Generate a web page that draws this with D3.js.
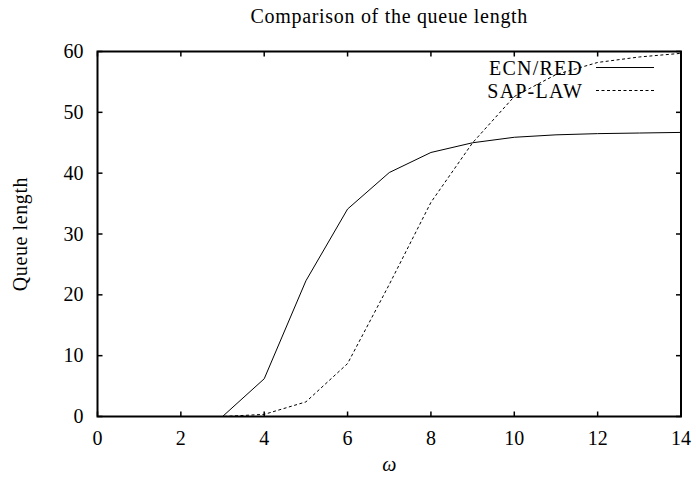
<!DOCTYPE html>
<html lang="en">
<head>
  <meta charset="UTF-8">
  <title>Comparison of the queue length</title>
  <script src="https://d3js.org/d3.v7.min.js"></script>
  <style>
    body { margin: 0; background: #fff; }
    svg { display: block; }
    text { font-family: "Liberation Serif", "Times New Roman", serif; fill: #000; font-size: 20px; }
  </style>
</head>
<body>
  <div id="chart"></div>
  <script>
    // data
    const omega = [0, 1, 2, 3, 4, 5, 6, 7, 8, 9, 10, 11, 12, 13, 14];
    const ecnRed = [0, 0, 0, 0, 6.2, 22.3, 34.1, 40.1, 43.4, 45.0, 45.9, 46.3, 46.5, 46.6, 46.7];
    const sapLaw = [0, 0, 0, 0, 0.35, 2.4, 8.7, 21.7, 35.2, 45.0, 52.6, 56.2, 58.2, 59.1, 59.7];
    const xTicks = [0, 2, 4, 6, 8, 10, 12, 14];
    const yTicks = [0, 10, 20, 30, 40, 50, 60];
    const seriesNames = ["ECN/RED", "SAP-LAW"];

    const width = 696, height = 477;
    const margin = { left: 97.5, right: 15, top: 51.5, bottom: 60.5 };

    const svg = d3.select("#chart").append("svg")
      .attr("width", width).attr("height", height);

    const x = d3.scaleLinear().domain([0, 14]).range([margin.left, width - margin.right]);
    const y = d3.scaleLinear().domain([0, 60]).range([height - margin.bottom, margin.top]);

    // title
    svg.append("text")
      .attr("x", (margin.left + width - margin.right) / 2)
      .attr("y", 23)
      .attr("text-anchor", "middle")
      .style("letter-spacing", "0.7px")
      .text("Comparison of the queue length");

    // lines
    const line = d3.line().x((d, i) => x(omega[i])).y(d => y(d));

    svg.append("path")
      .datum(ecnRed)
      .attr("d", line)
      .attr("fill", "none")
      .attr("stroke", "#000")
      .attr("stroke-width", 1);

    svg.append("path")
      .datum(sapLaw)
      .attr("d", line)
      .attr("fill", "none")
      .attr("stroke", "#000")
      .attr("stroke-width", 1)
      .attr("stroke-dasharray", "3,2.5");

    // ticks pointing inward on all four sides
    const tickLen = 5;
    const g = svg.append("g").attr("stroke", "#000").attr("stroke-width", 1.5);
    xTicks.forEach(t => {
      g.append("line").attr("x1", x(t)).attr("x2", x(t))
        .attr("y1", y(0)).attr("y2", y(0) - tickLen);
      g.append("line").attr("x1", x(t)).attr("x2", x(t))
        .attr("y1", y(60)).attr("y2", y(60) + tickLen);
    });
    yTicks.forEach(t => {
      g.append("line").attr("x1", x(0)).attr("x2", x(0) + tickLen)
        .attr("y1", y(t)).attr("y2", y(t));
      g.append("line").attr("x1", x(14)).attr("x2", x(14) - tickLen)
        .attr("y1", y(t)).attr("y2", y(t));
    });

    // frame
    svg.append("rect")
      .attr("x", x(0)).attr("y", y(60))
      .attr("width", x(14) - x(0)).attr("height", y(0) - y(60))
      .attr("fill", "none").attr("stroke", "#000").attr("stroke-width", 2);

    // tick labels
    svg.selectAll(".xlab").data(xTicks).enter().append("text")
      .attr("class", "xlab")
      .attr("x", d => x(d)).attr("y", 445)
      .attr("text-anchor", "middle")
      .text(d => d);

    svg.selectAll(".ylab").data(yTicks).enter().append("text")
      .attr("class", "ylab")
      .attr("x", x(0) - 14).attr("y", d => y(d) + 6.5)
      .attr("text-anchor", "end")
      .text(d => d);

    // axis titles
    svg.append("text")
      .attr("x", (x(0) + x(14)) / 2).attr("y", 471)
      .attr("text-anchor", "middle")
      .style("font-style", "italic")
      .text("ω");

    svg.append("text")
      .attr("transform", `translate(27,${(y(0) + y(60)) / 2}) rotate(-90)`)
      .attr("text-anchor", "middle")
      .style("letter-spacing", "0.6px")
      .text("Queue length");

    // legend
    const legend = svg.append("g");
    seriesNames.forEach((name, i) => {
      const ly = 67.5 + i * 23;
      legend.append("text")
        .attr("x", 583).attr("y", ly + 7)
        .attr("text-anchor", "end")
        .style("letter-spacing", "1.2px")
        .text(name);
      legend.append("line")
        .attr("x1", 596).attr("x2", 654)
        .attr("y1", ly).attr("y2", ly)
        .attr("stroke", "#000").attr("stroke-width", 1)
        .attr("stroke-dasharray", i === 1 ? "3,2.5" : null);
    });
  </script>
</body>
</html>
